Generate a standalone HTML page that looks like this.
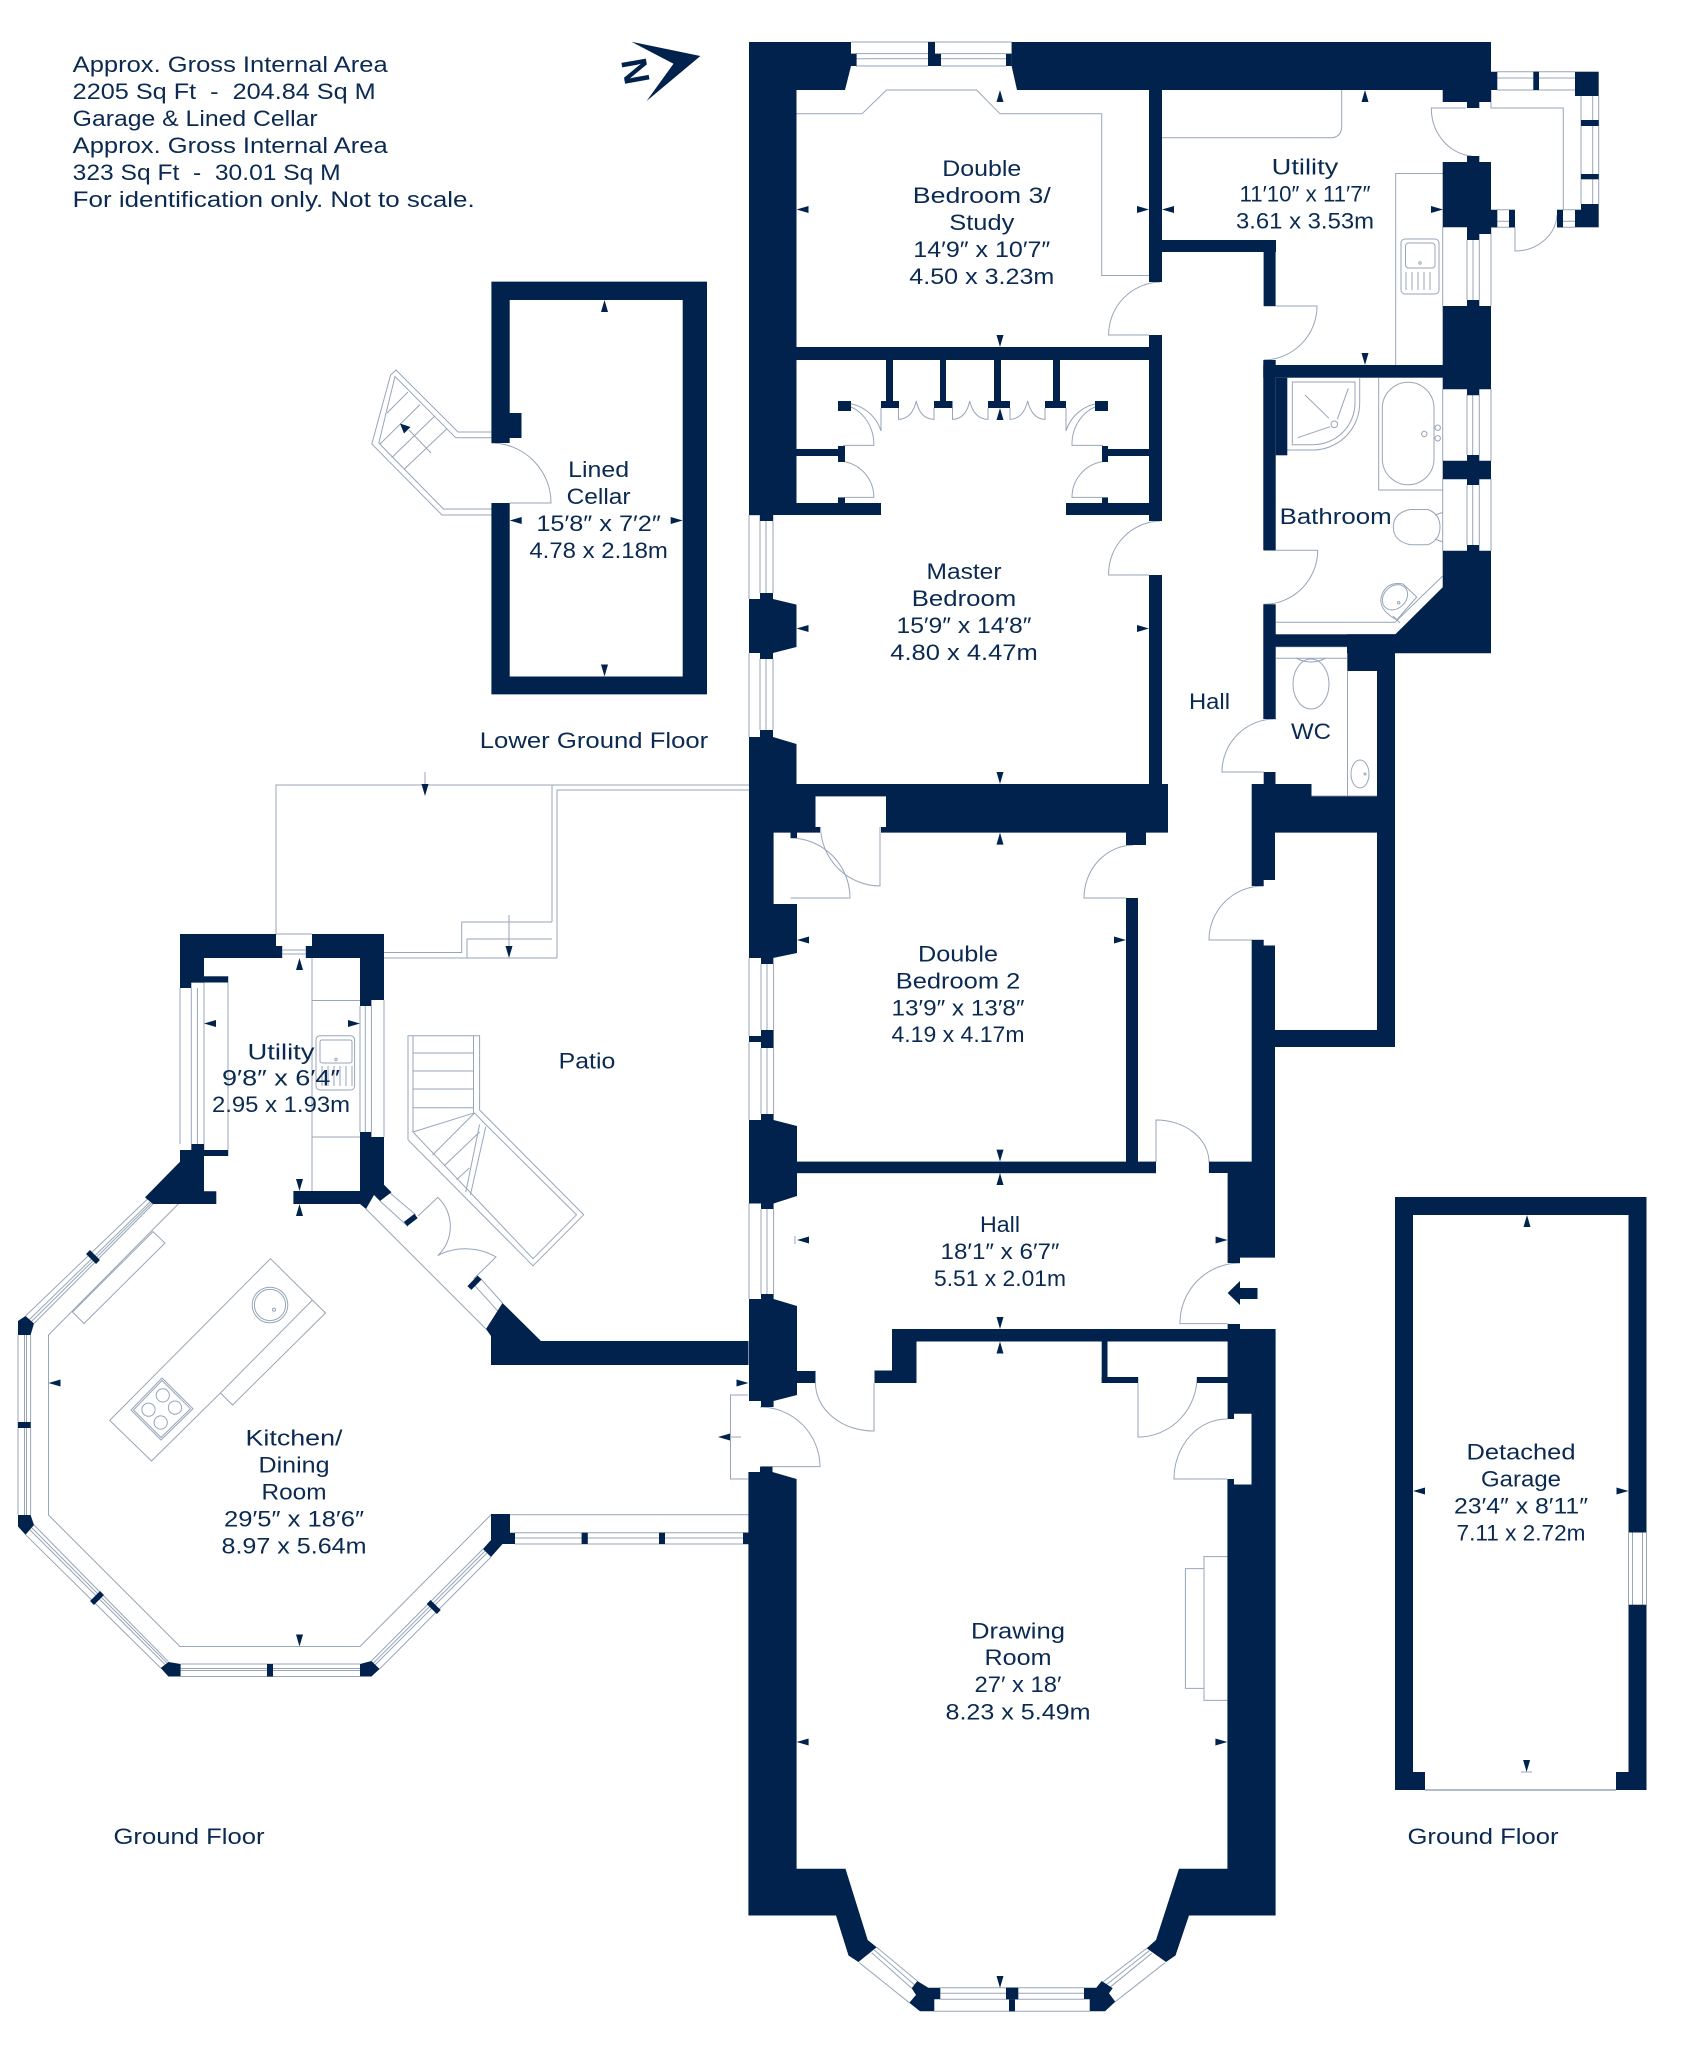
<!DOCTYPE html>
<html><head><meta charset="utf-8"><style>
html,body{margin:0;padding:0;background:#fff}
svg{display:block}
text{font-family:"Liberation Sans",sans-serif;font-size:22px;fill:#0a2a52;text-anchor:middle}
.w{fill:#00224c}
.t{fill:none;stroke:#97a6b9;stroke-width:1}
</style></head><body>
<svg width="1689" height="2048" viewBox="0 0 1689 2048" xmlns="http://www.w3.org/2000/svg">
<rect width="1689" height="2048" fill="#fff"/>

<!-- thin lines -->
<g class="t">
<!-- west windows -->
<path d="M749 515V599M760 515V593M766 515V593M773 515V593M749 515H773"/>
<path d="M749 653V737M760 659V730M766 659V730M773 659V730"/>
<path d="M749 958V1036M761 964V1030M767 964V1030M773.6 958V1030"/>
<path d="M749 1042V1120M761 1048V1114M767 1048V1114M773.6 1048V1114"/>
<path d="M749 1203V1299M761 1209V1294M767 1209V1294M773.6 1209V1294"/>
<!-- top window -->
<path d="M851 42H1011.6M856 53.6H928M941 53.6H1006M856 58.7H928M941 58.7H1006M856 66H928M941 66H1006"/>
<!-- east windows -->
<path d="M1442.7 227V306M1467 240V300M1473 240V300M1479.3 240V300M1491 227V306"/>
<path d="M1442.7 389V461M1467 395V455M1472.7 395V455M1479.3 395V455M1491 389V461"/>
<path d="M1442.7 479V551M1467 485V545M1472.7 485V545M1479.3 485V545M1491 479V551"/>
<!-- bed 3 -->
<path d="M796.5 113.8H862L886.5 90H976.6L1000 113.8H1101.7V275.5H1149"/>
<!-- NE utility -->
<path d="M1162 137.8H1330Q1341.7 137.8 1341.7 126V90"/>
<path d="M1443 173.5H1395.7V365"/>
<rect x="1401" y="239" width="38" height="55" rx="4"/>
<rect x="1405.5" y="243" width="29.5" height="25" rx="3"/>
<circle cx="1420" cy="263" r="1.2"/>
<path d="M1406 272V290M1412 272V290M1418 272V290M1424 272V290M1430 272V290"/>
<!-- porch -->
<path d="M1497 71.7H1575M1497 78H1533.3M1539 78H1575M1497 90H1575"/>
<path d="M1491 90V108H1563.3V210M1581 96V204M1592.7 96V204M1598.7 96V204"/>
<path d="M1491 227.3H1515M1497 209.7H1509M1497 221.3H1509M1563 209.7H1575M1563 221.3H1575M1557 227.3H1575"/>
<path d="M1466 108H1431.3A44 48 0 0 0 1471.7 156"/>
<path d="M1515 227V251A42 38 0 0 0 1557 215"/>
<!-- doors -->
<path d="M1149 335H1108.6A53 53 0 0 1 1160 282"/>
<path d="M1264 306H1317A54 54 0 0 1 1264 360"/>
<path d="M1149 575H1108.6A53 53 0 0 1 1160 521"/>
<path d="M1264 550.3H1317.7A54 54 0 0 1 1264 604.3"/>
<path d="M1263.6 772H1222A53 53 0 0 1 1276 719"/>
<path d="M898.5 408V419.4Q912 419 916.3 401Q920 419 934 419.4V408"/>
<path d="M952.5 408V419.4Q966 419 969.7 401Q974 419 988 419.4V408"/>
<path d="M1010 408V419.4Q1023 419 1027.7 401Q1032 419 1045 419.4V408"/>
<path d="M881 408V431A40 40 0 0 0 844.6 403"/>
<path d="M843 445.4H873.8A36 40 0 0 0 844.6 405"/>
<path d="M1066 408V431A40 40 0 0 1 1101.7 403"/>
<path d="M1103 445.4H1072A36 40 0 0 1 1101.7 405"/>
<path d="M844.6 497.4H873.8A36 36 0 0 0 844.6 461.7"/>
<path d="M1102 497.4H1072A36 36 0 0 1 1102 461.7"/>
<!-- WC -->
<path d="M1276 646.7H1347.5V796M1276 658.3H1347.5M1276 796H1377"/>
<ellipse cx="1311" cy="684" rx="18" ry="25"/>
<path d="M1296 658Q1311 666 1326 658"/>
<ellipse cx="1360" cy="774" rx="9" ry="14"/>
<circle cx="1365" cy="774" r="1"/>
<!-- bathroom -->
<path d="M1359.7 378V403A47 47 0 0 1 1313 450H1287"/>
<path d="M1292.3 382H1355V403A42 42 0 0 1 1313 444.7H1292.3Z"/>
<path d="M1305 395L1329 418.3M1348.3 388.3L1337.3 419.3M1297.7 437.7L1330 426.7"/>
<circle cx="1334.3" cy="424.3" r="3.3"/>
<path d="M1378.7 378V490H1442.7"/>
<rect x="1382.3" y="382.3" width="51.7" height="102.4" rx="25.8"/>
<circle cx="1424.3" cy="434" r="2.7"/><circle cx="1437.7" cy="427.7" r="2.7"/><circle cx="1437.7" cy="438.3" r="2.7"/>
<path d="M1428 509.5H1410Q1393.3 513 1393.3 527Q1393.3 541 1410 544.7H1428Q1440 540 1440 527Q1440 514 1428 509.5Z"/>
<path d="M1435 515L1442.7 512.5M1435 539L1442.7 542"/>
<path d="M1396.7 620L1416.7 597L1403 584Q1385 581 1381 598Q1379 610 1396.7 620Z"/>
<ellipse cx="1395" cy="597.3" rx="14" ry="11" transform="rotate(-45 1395 597.3)"/>
<circle cx="1398.7" cy="602.7" r="1.2"/>
<path d="M1275.7 622.3H1395L1442.7 576M1393 616L1400 623"/>
<!-- bedroom 2 doors -->
<path d="M790.5 898H850A60 60 0 0 0 790.5 838"/>
<path d="M880 827V886A60 60 0 0 1 820.5 827"/>
<path d="M1126 898H1084A50 53 0 0 1 1133 845"/>
<path d="M1263.7 940H1209A54 54 0 0 1 1263.7 886"/>
<path d="M1156 1162V1120A53 42 0 0 1 1209 1162"/>
<path d="M1227.6 1323.6H1180A60 60 0 0 1 1240 1263"/>
<path d="M874 1383V1431A58 48 0 0 1 815.5 1383"/>
<path d="M1138 1377V1437A59 60 0 0 0 1197 1377"/>
<path d="M1227 1479H1174A53 60 0 0 1 1227.4 1419"/>
<path d="M748 1395H730.5V1479H748"/>
<path d="M761.4 1466.6H820A60 60 0 0 0 760 1407"/>
<path d="M730 1437H741"/>
<!-- fireplace -->
<path d="M1227.4 1556.6H1204V1700.4H1227.4M1204 1568.6H1185.4V1688.4H1204"/>
<!-- bay window -->
<path d="M940.3 1987.7H1084M940.3 1993.3H1006M1018.3 1993.3H1084M940.3 1999.3H1084M934.3 2011.3H1089.7"/>
<path d="M876.7 1947.3L917.3 1981M874.3 1950L914.7 1985M871.7 1952.7L911.7 1988.3M859.3 1962.7L909.3 2002.7"/>
<path d="M1146.7 1948.3L1103.3 1981.7M1149.3 1950.7L1106 1985M1151.7 1953.3L1108.7 1988.3M1165 1962.7L1115.3 2001.7"/>
<!-- cellar stairs -->
<path d="M491.4 432H458L396 370L390.6 375L371.8 444L442 515H491.4M491.4 437.8H455.8L395 376.5L378.8 443L443.4 509H491.4"/>
<path d="M387 413L408 392M380 444L420 404.6M391.7 457.6L434.8 416M404 469.4L447 428.6M409 430L431 453"/>
<path d="M509.7 503H551A60 60 0 0 0 491.4 443"/>
<!-- patio -->
<path d="M276 934V785H552V922M557 958V790H749M552 785H749M425 772V785"/>
<path d="M384 958H557M384 952.5H461.7V922H552M467 958V939H552M509 915V950"/>
<!-- patio stairs -->
<path d="M408 1035.7H479.6V1110L583.7 1214.8L533 1265.8L408 1139.8Z"/>
<path d="M413 1035.7V1132L533 1258.7L576.5 1214.8L485.7 1124.5L474.5 1112.8M473.5 1035.7V1112.8"/>
<path d="M413 1053H473.5M413 1071H473.5M413 1089H473.5M413 1107.7H473.5M413 1132L474.5 1112.8M432.6 1155L474.5 1113M444 1166L479.6 1132M456.6 1179.6L469.4 1168M465.8 1192L479.6 1124.5M470.4 1195L485.7 1127"/>
<!-- kitchen utility -->
<path d="M180 988V1144M191.3 988V1144M197.4 988V1144M204 982V1150M204 976.5H228V1156"/>
<path d="M360 1006V1132M365.3 1006V1132M371.4 1006V1132M384 1000V1137"/>
<path d="M312 958V1191M312 1000.5H360M312 1137H360"/>
<rect x="316" y="1035.7" width="38.6" height="54.3" rx="4"/>
<rect x="320" y="1040" width="32" height="23" rx="2"/>
<circle cx="336" cy="1059.5" r="1.2"/>
<path d="M322 1066V1086M328 1066V1086M334 1066V1086M340 1066V1086M346 1066V1086M352 1066V1086"/>
<path d="M276 934H312M282 946V958M306 946V958M282 950H306M282 954H306"/>
<!-- octagon -->
<path d="M178.6 1203.6L48.5 1335V1515L180 1646.5H360L491 1514.8H748.5"/>
<path d="M148 1198.5L25.5 1316M153 1204L34 1323.5M151 1201L29.5 1319.5M152 1202.5L31.5 1321.5"/>
<path d="M18 1335V1515M24.5 1335V1515M26.5 1335V1515M30.6 1335V1515"/>
<path d="M25.5 1534.7L160.7 1668M34 1525L168.4 1661.7M30 1530L165 1664.5M32 1528L167 1663"/>
<path d="M180.6 1664H360M180.6 1668.5H360M180.6 1670.5H360M180.6 1676.5H360"/>
<path d="M379.6 1669L491 1557M371.4 1661L483 1549M375 1665L487 1553M373.5 1663L485 1551"/>
<path d="M515 1532.7H748.5M515 1538H748.5M515 1544H748.5"/>
<path d="M366 1209L486 1329"/>
<path d="M380 1201L408 1226.5M390 1193L416 1215M472 1282.6L497.5 1310.7M479.6 1277.6L502.5 1303"/>
<path d="M418 1216L437.8 1197.4A40 40 0 0 1 437.8 1255.6A50 40 0 0 1 496 1257L473.5 1279"/>
<!-- island -->
<path d="M270.4 1258.7L325.5 1313L232.6 1405L220.4 1393L151.5 1461L109.7 1420.4ZM312 1300.5L220.4 1393"/>
<path d="M162 1378L193 1408.7L161 1440L131 1410ZM162 1380.5L190.5 1408.7L161 1437.5L133.5 1410Z"/>
<circle cx="162.8" cy="1395.4" r="6.6"/><circle cx="148.5" cy="1409.7" r="6.6"/><circle cx="175" cy="1407.6" r="6.6"/><circle cx="160.7" cy="1422.5" r="6.6"/>
<circle cx="270" cy="1305" r="17.8"/><circle cx="270" cy="1305" r="15.6"/><circle cx="274" cy="1309.7" r="1.5"/>
<path d="M153 1231.6L165 1243L84 1323.5L72.5 1312Z"/>
<!-- garage -->
<path d="M1628.5 1532.5V1604.7M1646.5 1532.5V1604.7M1632.5 1532.5V1604.7M1642.5 1532.5V1604.7"/>
<path d="M1425 1790H1616" stroke-width="1.6"/>
<path d="M1521 1772H1532"/>
<path d="M795 1236V1244"/>
</g>

<!-- walls -->
<g class="w">
<path d="M749 42H851V66L845 90H796.5V515H749Z"/>
<path d="M1011.6 42H1491V71.7H1497.3V90H1491V102H1479.3V108H1467V102H1442.7V90H1017L1011.6 66Z"/>
<rect x="760" y="515" width="13" height="6"/>
<rect x="928" y="42" width="7" height="12"/><rect x="928" y="53.6" width="13" height="12.4"/>
<rect x="851" y="53.6" width="5.6" height="12.4"/><rect x="1006" y="53.6" width="5.6" height="12.4"/>
<path d="M1442.7 162H1467V156H1479.3V162H1491V209.7H1497.3V227.3H1491V234H1479.3V240H1467V227.3H1442.7Z"/>
<path d="M1442.7 306H1467V300H1479.3V306H1491V389.3H1479.3V395.3H1467V389.3H1442.7Z"/>
<path d="M1442.7 460.7H1467V455H1479.3V460.7H1491V479.3H1479.3V485H1467V479.3H1442.7Z"/>
<path d="M1442.7 550.7H1467V545H1479.3V550.7H1491V653.3H1347V634.3H1395.3L1442.7 587.3Z"/>
<rect x="1263.6" y="634.3" width="132" height="12.4"/>
<rect x="1347.5" y="646" width="47.5" height="25"/>
<rect x="1377" y="653" width="18" height="394"/>
<rect x="1275" y="1030" width="120" height="17"/>
<!-- porch -->
<rect x="1533.3" y="71.7" width="5.7" height="18.3"/>
<rect x="1575" y="71.7" width="23.7" height="24.3"/>
<rect x="1581" y="120" width="17.7" height="6"/><rect x="1581" y="174" width="17.7" height="5.3"/>
<rect x="1581" y="204" width="17.7" height="6"/><rect x="1575" y="209.7" width="23.7" height="17.6"/>
<rect x="1557" y="209.7" width="6" height="17.6"/>
<rect x="1509" y="209.7" width="6" height="17.6"/>
<!-- internal walls -->
<rect x="1149" y="90" width="13" height="192"/>
<rect x="1149" y="335" width="13" height="186"/>
<rect x="1149" y="575" width="13" height="211"/>
<rect x="1162" y="240" width="114" height="12"/>
<rect x="1263.6" y="240" width="12" height="66"/>
<rect x="796" y="347" width="353" height="13"/>
<rect x="886" y="360" width="7" height="48"/><rect x="881" y="401" width="18" height="7"/>
<rect x="940" y="360" width="6" height="48"/><rect x="934" y="401" width="18.5" height="7"/>
<rect x="994" y="360" width="7" height="48"/><rect x="988" y="401" width="22" height="7"/>
<rect x="1053" y="360" width="7" height="48"/><rect x="1045" y="401" width="21" height="7"/>
<rect x="838" y="401" width="13" height="10"/><rect x="1095" y="401" width="13" height="10"/>
<rect x="796" y="449" width="42" height="7"/><rect x="838" y="446" width="7" height="16"/>
<rect x="796" y="503" width="85" height="12"/><rect x="838" y="497.4" width="7" height="6"/>
<rect x="1066" y="503" width="83" height="12"/><rect x="1102" y="497.4" width="6" height="6"/>
<rect x="1108" y="449" width="41" height="7"/><rect x="1102" y="446" width="6" height="16"/>
<!-- bathroom walls -->
<rect x="1263.3" y="360" width="12.4" height="190.3"/>
<rect x="1263.3" y="604.3" width="12.4" height="114.7"/>
<rect x="1263.3" y="365" width="179.7" height="12.7"/>
<rect x="1275.7" y="377.7" width="11.6" height="77.6"/>
<!-- west chimney breasts -->
<path d="M760 593H773V599L796.5 604.6V647L773 653V659H760V653H749V599H760Z"/>
<path d="M760 730H773V737L796.5 744V784H1168V832.6H1146V845H1126V832.6H881V827H886V796.4H815.5V827H820V832.6H797V838H790.5V832.6H773.6V904H797V953L773 958V964H761V958H749V737H760Z" />
<rect x="1126" y="898" width="12" height="264"/>
<rect x="797" y="1161.6" width="359" height="11.6"/>
<rect x="761" y="1030" width="12.6" height="18"/><rect x="749" y="1036" width="12" height="6"/>
<path d="M761 1114H773.6V1120L797 1126V1196L773.6 1203.5V1209H761V1203.5H749V1120H761Z"/>
<path d="M761 1294H773.6V1299L797 1306V1371H815.5V1383H797V1395L773.6 1401V1407H761V1401H749V1299H761Z"/>
<!-- east side -->
<path d="M1251.7 784H1263.7V772H1275.5V784H1311.5V796.4H1377V832.6H1275V880H1263.7V886H1251.7Z"/>
<path d="M1251.7 940H1263.7V945.5H1275V1257.6H1240V1263H1227.6V1173H1208.9V1161.6H1251.7Z"/>
<path d="M1227.6 1324H1240V1329H1275.6V1915.5H1189L1175.5 1955.5L1166 1962L1146.7 1948.3L1156 1940L1179 1868.7H1227.4V1479H1234V1484.5H1251.5V1413.7H1234V1419H1227.6Z"/>
<path d="M748.4 1472H760V1466.6H772.5V1472L796.6 1479V1868.7H845.5L867.7 1940L876.7 1947.3L858.4 1962L848.5 1955.5L836 1915.5H748.4Z"/>
<rect x="892" y="1329" width="336" height="12.5"/>
<path d="M892 1329V1370.5H874.5V1383H916.5V1341.5H892Z"/>
<rect x="1101.7" y="1341.5" width="5.8" height="41.5"/>
<rect x="1101.7" y="1377" width="36.3" height="6"/>
<rect x="1197" y="1377" width="31" height="6"/>
<!-- bay -->
<path d="M917.3 1981L928.3 1987.7H940.3V1999.3H934.3V2011.3H920L909.3 2002.7L916 1995L911.7 1988.3Z"/>
<path d="M1101.7 1981L1096.3 1987.7H1084V1999.3H1089.7V2011.3H1105L1115.3 2001.7L1109 1993.3L1112.7 1988.3Z"/>
<rect x="1006" y="1987.7" width="12.3" height="11.6"/><rect x="1009" y="1999.3" width="6" height="12"/>
<!-- cellar -->
<path fill-rule="evenodd" d="M491.4 281.6H707V694.4H491.4V503H509.7V676.5H682.7V300H509.7V443H491.4ZM491.4 281.6"/>
<rect x="509" y="413" width="12.5" height="25"/>
<!-- kitchen link -->
<path d="M748.5 1341H541L502.5 1303L486 1329L491 1336V1365H748.5Z"/>
<!-- kitchen utility walls -->
<path d="M180 934H276V946H282V958H204V982.6H191.3V988H180Z"/>
<path d="M312 934H384V1000H371.4V1006H360V958H306V946H312Z"/>
<rect x="204" y="976.5" width="24" height="6"/><rect x="204" y="1150" width="24" height="6"/>
<path d="M191.3 1144H204V1191.3H216.3V1204H153L145 1197.4L180 1161.7V1150H191.3Z"/>
<path d="M360 1132H371.4V1137H384V1184.7L391.5 1192.3L380 1201L374 1195L366 1209L360 1204H293.4V1191H360Z"/>
<!-- octagon blocks -->
<path d="M18 1321L25.5 1316L34 1323.5L30.6 1335H18Z"/>
<rect x="18" y="1422" width="12.6" height="6"/>
<path d="M18 1515H30.6L34 1525L25.5 1534.7L18 1526.5Z"/>
<path d="M160.7 1668L168.4 1662L180.6 1664V1676.5H168.4Z"/>
<rect x="267" y="1664" width="6" height="12.5"/>
<path d="M360 1664L371.4 1661L379.6 1669L371.4 1676.5H360Z"/>
<path d="M491 1514H510V1532.7H515V1544H502.5L491 1557L483 1549L491 1540Z"/>
<rect x="581.6" y="1532.7" width="6.2" height="11.3"/><rect x="659" y="1532.7" width="6" height="11.3"/><rect x="743" y="1532.7" width="5.5" height="11.3"/>
<!-- garage -->
<rect x="1395" y="1197" width="251.5" height="18"/>
<rect x="1395" y="1197" width="18" height="593"/>
<rect x="1628.5" y="1197" width="18" height="335.5"/>
<rect x="1628.5" y="1604.7" width="18" height="185.3"/>
<rect x="1395" y="1772" width="30" height="18"/>
<rect x="1616" y="1772" width="30.5" height="18"/>
<!-- entry arrow -->
<path d="M1227.6 1293L1240 1281V1288H1257.5V1299H1240V1305Z"/>
<!-- north arrow -->
<path d="M631.5 41.8L700.4 56L646.6 101L673.5 63.8Z"/>
<!-- arrowheads -->
<path d="M796.5 209.5l12-3.5v7zM1162 209.5l12-3.5v7zM796.5 628.5l12-3.5v7zM797 940l12-3.5v7zM797 1240l12-3.5v7zM796.6 1742l12-3.5v7zM48.5 1383l12-3.5v7zM204 1023.5l12-3.5v7zM509.7 520.5l12-3.5v7zM1413 1491l12-3.5v7zM718 1437l12-3.5v7z"/>
<path d="M1149 209.5l-12-3.5v7zM1443 209.5l-12-3.5v7zM1149 628.5l-12-3.5v7zM1126 940l-12-3.5v7zM1227.6 1240l-12-3.5v7zM1227.4 1742l-12-3.5v7zM748.5 1383l-12-3.5v7zM360 1023.5l-12-3.5v7zM682.7 520.5l-12-3.5v7zM1628.5 1491l-12-3.5v7z"/>
<path d="M1000 90l-3.5 12h7zM1365 90l-3.5 12h7zM1000 408l-3.5 12h7zM1000 832.6l-3.5 12h7zM1000 1173l-3.5 12h7zM1000 1341.5l-3.5 12h7zM299.5 1204l-3.5 12h7zM299.5 958l-3.5 12h7zM604.5 300l-3.5 12h7zM1527 1215l-3.5 12h7z"/>
<path d="M1000 347l-3.5-12h7zM1365 365l-3.5-12h7zM1000 784l-3.5-12h7zM1000 1161.6l-3.5-12h7zM1000 1329l-3.5-12h7zM1000 1988l-3.5-12h7zM299.5 1646.5l-3.5-12h7zM299.5 1191l-3.5-12h7zM604.5 676.5l-3.5-12h7zM1526.6 1772l-3.5-12h7zM425 796l-3.5-12h7zM509 958l-3.5-12h7z"/>
<path d="M400 423.5l10.5 3.5l-6.5 6.5z"/>
<text x="636" y="71" transform="rotate(80 636 71)" dy="13" style="font-size:36px;font-weight:bold;fill:#00224c">N</text>
</g>

<!-- header text -->
<g style="text-anchor:start">
<text x="72.7" y="72" textLength="315" lengthAdjust="spacingAndGlyphs" style="text-anchor:start">Approx. Gross Internal Area</text>
<text x="72.7" y="99" textLength="303" lengthAdjust="spacingAndGlyphs" style="text-anchor:start" xml:space="preserve">2205 Sq Ft  -  204.84 Sq M</text>
<text x="72.7" y="126" textLength="245" lengthAdjust="spacingAndGlyphs" style="text-anchor:start">Garage &amp; Lined Cellar</text>
<text x="72.7" y="153" textLength="315" lengthAdjust="spacingAndGlyphs" style="text-anchor:start">Approx. Gross Internal Area</text>
<text x="72.7" y="180" textLength="268" lengthAdjust="spacingAndGlyphs" style="text-anchor:start" xml:space="preserve">323 Sq Ft  -  30.01 Sq M</text>
<text x="72.7" y="207" textLength="402" lengthAdjust="spacingAndGlyphs" style="text-anchor:start">For identification only. Not to scale.</text>
</g>

<!-- room labels -->
<g transform="translate(0,-1)">
<text x="598.6" y="478" textLength="61" lengthAdjust="spacingAndGlyphs">Lined</text>
<text x="598.6" y="505" textLength="64" lengthAdjust="spacingAndGlyphs">Cellar</text>
<text x="598.6" y="532" textLength="124.5" lengthAdjust="spacingAndGlyphs">15′8″ x 7′2″</text>
<text x="598.6" y="559" textLength="138.5" lengthAdjust="spacingAndGlyphs">4.78 x 2.18m</text>

<text x="981.8" y="177" textLength="79" lengthAdjust="spacingAndGlyphs">Double</text>
<text x="981.8" y="204" textLength="138" lengthAdjust="spacingAndGlyphs">Bedroom 3/</text>
<text x="981.8" y="231" textLength="65" lengthAdjust="spacingAndGlyphs">Study</text>
<text x="981.8" y="258" textLength="137" lengthAdjust="spacingAndGlyphs">14′9″ x 10′7″</text>
<text x="981.8" y="285" textLength="145" lengthAdjust="spacingAndGlyphs">4.50 x 3.23m</text>

<text x="1305" y="175.5" textLength="66.6" lengthAdjust="spacingAndGlyphs">Utility</text>
<text x="1305" y="202.5" textLength="131" lengthAdjust="spacingAndGlyphs">11′10″ x 11′7″</text>
<text x="1305" y="229.5" textLength="138" lengthAdjust="spacingAndGlyphs">3.61 x 3.53m</text>

<text x="964" y="580" textLength="75" lengthAdjust="spacingAndGlyphs">Master</text>
<text x="964" y="607" textLength="104.5" lengthAdjust="spacingAndGlyphs">Bedroom</text>
<text x="964" y="634" textLength="135" lengthAdjust="spacingAndGlyphs">15′9″ x 14′8″</text>
<text x="964" y="661" textLength="147.5" lengthAdjust="spacingAndGlyphs">4.80 x 4.47m</text>

<text x="1335.6" y="525" textLength="112" lengthAdjust="spacingAndGlyphs">Bathroom</text>
<text x="1209.5" y="710" textLength="41" lengthAdjust="spacingAndGlyphs">Hall</text>
<text x="594" y="749" textLength="228.5" lengthAdjust="spacingAndGlyphs">Lower Ground Floor</text>

<text x="958" y="962.5" textLength="80" lengthAdjust="spacingAndGlyphs">Double</text>
<text x="958" y="989.7" textLength="124.5" lengthAdjust="spacingAndGlyphs">Bedroom 2</text>
<text x="958" y="1016.5" textLength="133" lengthAdjust="spacingAndGlyphs">13′9″ x 13′8″</text>
<text x="958" y="1043" textLength="133" lengthAdjust="spacingAndGlyphs">4.19 x 4.17m</text>

<text x="1000" y="1233" textLength="40" lengthAdjust="spacingAndGlyphs">Hall</text>
<text x="1000" y="1260" textLength="119" lengthAdjust="spacingAndGlyphs">18′1″ x 6′7″</text>
<text x="1000" y="1287" textLength="132" lengthAdjust="spacingAndGlyphs">5.51 x 2.01m</text>

<text x="1018" y="1639.4" textLength="94" lengthAdjust="spacingAndGlyphs">Drawing</text>
<text x="1018" y="1666" textLength="67" lengthAdjust="spacingAndGlyphs">Room</text>
<text x="1018" y="1693" textLength="87" lengthAdjust="spacingAndGlyphs">27′ x 18′</text>
<text x="1018" y="1720.4" textLength="145" lengthAdjust="spacingAndGlyphs">8.23 x 5.49m</text>

<text x="281" y="1060.7" textLength="67" lengthAdjust="spacingAndGlyphs">Utility</text>
<text x="281" y="1086.7" textLength="118" lengthAdjust="spacingAndGlyphs">9′8″ x 6′4″</text>
<text x="281" y="1113" textLength="138" lengthAdjust="spacingAndGlyphs">2.95 x 1.93m</text>

<text x="587" y="1069.4" textLength="56.6" lengthAdjust="spacingAndGlyphs">Patio</text>

<text x="294" y="1446.4" textLength="97" lengthAdjust="spacingAndGlyphs">Kitchen/</text>
<text x="294" y="1473.5" textLength="71" lengthAdjust="spacingAndGlyphs">Dining</text>
<text x="294" y="1500.5" textLength="65" lengthAdjust="spacingAndGlyphs">Room</text>
<text x="294" y="1527.5" textLength="140" lengthAdjust="spacingAndGlyphs">29′5″ x 18′6″</text>
<text x="294" y="1554.6" textLength="145" lengthAdjust="spacingAndGlyphs">8.97 x 5.64m</text>
</g>

<text x="1311" y="739" textLength="40" lengthAdjust="spacingAndGlyphs">WC</text>
<text x="1521" y="1459.5" textLength="109" lengthAdjust="spacingAndGlyphs">Detached</text>
<text x="1521" y="1486.7" textLength="80" lengthAdjust="spacingAndGlyphs">Garage</text>
<text x="1521" y="1513.4" textLength="134" lengthAdjust="spacingAndGlyphs">23′4″ x 8′11″</text>
<text x="1521" y="1540.6" textLength="129" lengthAdjust="spacingAndGlyphs">7.11 x 2.72m</text>

<text x="1483" y="1844" textLength="151" lengthAdjust="spacingAndGlyphs">Ground Floor</text>
<text x="189" y="1844" textLength="151" lengthAdjust="spacingAndGlyphs">Ground Floor</text>

<!-- diagonal mullions -->
<g stroke="#00224c" stroke-width="5.5" fill="none">
<path d="M88 1252L98 1262M92 1603L102 1593M428.6 1602L438.8 1612M405.6 1224L416 1216M469.4 1288L479.6 1277.6"/>
</g>
</svg>
</body></html>
